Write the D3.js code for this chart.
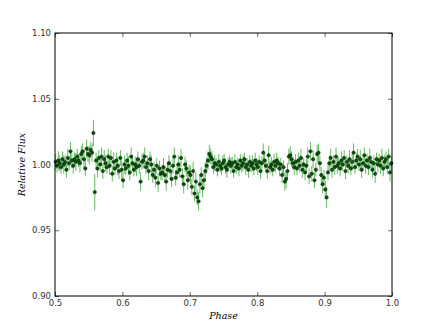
<!DOCTYPE html>
<html><head><meta charset="utf-8">
<script src="https://cdn.jsdelivr.net/npm/d3@7"></script>
<style>body{margin:0;background:#fff}svg{display:block}</style>
</head><body>
<script>
const phase = [
0.501,0.503,0.505,0.507,0.509, 0.511,0.513,0.515,0.517,0.519,
0.521,0.523,0.525,0.527,0.529, 0.531,0.533,0.535,0.537,0.539,
0.541,0.543,0.545,0.547,0.549, 0.551,0.553,0.555,0.557,0.559,
0.561,0.563,0.565,0.567,0.569, 0.571,0.573,0.575,0.577,0.579,
0.581,0.583,0.585,0.587,0.589, 0.591,0.593,0.595,0.597,0.599,
0.601,0.603,0.605,0.607,0.609, 0.611,0.613,0.615,0.617,0.619,
0.621,0.623,0.625,0.627,0.629, 0.631,0.633,0.635,0.637,0.639,
0.641,0.643,0.645,0.647,0.649, 0.651,0.653,0.655,0.657,0.659,
0.661,0.663,0.665,0.667,0.669, 0.671,0.673,0.675,0.677,0.679,
0.681,0.683,0.685,0.687,0.689, 0.691,0.693,0.695,0.697,0.699,
0.701,0.703,0.705,0.707,0.709, 0.711,0.713,0.715,0.717,0.719,
0.721,0.723,0.725,0.727,0.729, 0.731,0.733,0.735,0.737,0.739,
0.741,0.743,0.745,0.747,0.749, 0.751,0.753,0.755,0.757,0.759,
0.761,0.763,0.765,0.767,0.769, 0.771,0.773,0.775,0.777,0.779,
0.781,0.783,0.785,0.787,0.789, 0.791,0.793,0.795,0.797,0.799,
0.801,0.803,0.805,0.807,0.809, 0.811,0.813,0.815,0.817,0.819,
0.821,0.823,0.825,0.827,0.829, 0.831,0.833,0.835,0.837,0.839,
0.841,0.843,0.845,0.847,0.849, 0.851,0.853,0.855,0.857,0.859,
0.861,0.863,0.865,0.867,0.869, 0.871,0.873,0.875,0.877,0.879,
0.881,0.883,0.885,0.887,0.889, 0.891,0.893,0.895,0.897,0.899,
0.901,0.903,0.905,0.907,0.909, 0.911,0.913,0.915,0.917,0.919,
0.921,0.923,0.925,0.927,0.929, 0.931,0.933,0.935,0.937,0.939,
0.941,0.943,0.945,0.947,0.949, 0.951,0.953,0.955,0.957,0.959,
0.961,0.963,0.965,0.967,0.969, 0.971,0.973,0.975,0.977,0.979,
0.981,0.983,0.985,0.987,0.989, 0.991,0.993,0.995,0.997,0.999
];
const flux = [
1.002,0.999,1.003,1.001,0.998, 1.004,1.000,1.002,0.996,1.005,
1.001,1.010,1.003,0.999,1.004, 1.002,1.006,1.003,1.001,1.008,
1.010,1.004,0.997,1.012,1.008, 1.007,1.011,1.009,1.024,0.979,
1.003,0.997,1.005,1.000,1.006, 0.995,1.004,1.001,0.998,1.006,
0.999,1.005,0.993,1.002,0.997, 1.003,0.999,0.995,1.005,0.996,
0.988,1.000,0.997,1.003,0.999, 0.994,1.006,1.001,0.996,1.000,
0.998,1.004,0.999,0.987,1.002, 1.003,1.006,0.998,1.001,0.995,
1.004,1.000,0.992,0.996,0.990, 0.999,0.986,0.997,0.993,0.994,
0.998,0.992,0.987,0.996,1.001, 0.995,0.989,0.999,1.006,0.990,
0.994,1.000,0.996,1.005,0.991, 0.985,1.000,0.997,0.988,0.994,
0.992,0.983,0.995,0.978,0.987, 0.975,0.972,0.985,0.992,0.982,
0.988,0.995,0.999,1.003,1.008, 1.006,1.004,0.998,1.001,1.000,
0.996,1.002,0.999,0.997,1.001, 1.003,0.998,0.996,1.000,1.002,
0.999,1.001,0.995,1.002,0.998, 1.000,0.997,1.003,0.999,1.001,
1.004,0.998,1.000,0.996,1.002, 0.999,1.001,0.997,1.003,1.000,
0.998,1.002,0.995,1.001,1.009, 1.003,0.999,0.995,1.007,0.998,
1.000,0.996,1.002,0.999,1.003, 1.001,0.997,1.000,0.992,0.998,
0.987,0.989,0.995,1.006,1.007, 1.004,1.001,0.998,1.002,0.997,
1.003,0.999,1.005,0.996,1.000, 0.994,0.999,1.006,0.991,1.010,
0.993,1.004,0.988,0.996,1.008, 1.009,1.001,0.992,0.985,0.990,
0.981,0.975,0.994,1.001,1.005, 0.996,1.002,0.998,1.006,0.999,
1.001,0.997,1.003,1.000,1.005, 0.995,1.002,0.999,1.004,0.997,
1.002,1.009,0.998,1.003,1.006, 1.000,1.004,0.996,1.001,1.007,
0.999,1.003,0.998,1.005,1.002, 0.996,1.001,0.993,1.004,1.000,
1.003,0.999,1.005,0.997,1.002, 1.004,0.998,1.006,0.994,1.001
];
const err = [
0.006,0.005,0.007,0.006,0.005, 0.006,0.007,0.005,0.006,0.007,
0.005,0.007,0.006,0.006,0.005, 0.007,0.006,0.005,0.007,0.006,
0.006,0.007,0.006,0.007,0.006, 0.007,0.006,0.007,0.010,0.014,
0.006,0.007,0.006,0.005,0.007, 0.006,0.007,0.006,0.005,0.006,
0.007,0.006,0.006,0.007,0.005, 0.006,0.007,0.006,0.006,0.007,
0.006,0.007,0.005,0.006,0.007, 0.006,0.007,0.006,0.005,0.006,
0.007,0.006,0.006,0.007,0.006, 0.006,0.007,0.005,0.006,0.007,
0.006,0.007,0.006,0.006,0.007, 0.006,0.007,0.006,0.005,0.006,
0.007,0.006,0.007,0.006,0.006, 0.007,0.006,0.006,0.007,0.006,
0.006,0.007,0.006,0.007,0.006, 0.007,0.006,0.006,0.007,0.006,
0.007,0.006,0.007,0.006,0.007, 0.006,0.007,0.007,0.006,0.007,
0.006,0.007,0.006,0.007,0.007, 0.006,0.006,0.005,0.006,0.005,
0.005,0.006,0.005,0.005,0.006, 0.005,0.005,0.006,0.005,0.005,
0.006,0.005,0.005,0.006,0.005, 0.005,0.006,0.005,0.005,0.006,
0.005,0.006,0.005,0.006,0.005, 0.005,0.006,0.005,0.006,0.005,
0.006,0.005,0.006,0.005,0.007, 0.006,0.005,0.006,0.007,0.005,
0.006,0.005,0.006,0.005,0.006, 0.005,0.006,0.005,0.006,0.005,
0.007,0.007,0.006,0.006,0.007, 0.006,0.005,0.006,0.006,0.005,
0.006,0.005,0.007,0.006,0.005, 0.006,0.005,0.007,0.006,0.007,
0.006,0.007,0.006,0.005,0.007, 0.007,0.006,0.006,0.007,0.006,
0.007,0.008,0.006,0.006,0.007, 0.006,0.005,0.006,0.007,0.006,
0.005,0.006,0.007,0.005,0.006, 0.006,0.005,0.006,0.007,0.005,
0.006,0.007,0.005,0.006,0.006, 0.005,0.007,0.006,0.005,0.006,
0.006,0.005,0.006,0.007,0.005, 0.006,0.006,0.007,0.005,0.006,
0.005,0.006,0.007,0.006,0.005, 0.006,0.005,0.006,0.007,0.006
];
const xTicks = [0.5,0.6,0.7,0.8,0.9,1.0];
const yTicks = [0.90,0.95,1.00,1.05,1.10];
const xLabel = "Phase";
const yLabel = "Relative Flux";

const W = 436, H = 329;
const m = {left:55, right:44, top:33, bottom:33};
const svg = d3.select("body").append("svg").attr("width",W).attr("height",H);
const x = d3.scaleLinear().domain([0.5,1.0]).range([m.left, W-m.right]);
const y = d3.scaleLinear().domain([0.90,1.10]).range([H-m.bottom, m.top]);

const data = phase.map((p,i)=>({p, f:flux[i], e:err[i]}));

const plot = svg.append("g");
plot.selectAll("line.eb").data(data).enter().append("line")
  .attr("class","eb")
  .attr("x1",d=>x(d.p)).attr("x2",d=>x(d.p))
  .attr("y1",d=>y(d.f-d.e)).attr("y2",d=>y(d.f+d.e))
  .attr("stroke","#3fa83f").attr("stroke-opacity",0.8).attr("stroke-width",1);
plot.selectAll("circle").data(data).enter().append("circle")
  .attr("cx",d=>x(d.p)).attr("cy",d=>y(d.f)).attr("r",1.7)
  .attr("fill","#0a4f0a").attr("stroke","#002200").attr("stroke-width",0.5);

const fontAx = "DejaVu Sans";
const axB = d3.axisBottom(x).tickValues(xTicks).tickFormat(d3.format(".1f")).tickSizeInner(-4).tickSizeOuter(0).tickPadding(4);
const axL = d3.axisLeft(y).tickValues(yTicks).tickFormat(d3.format(".2f")).tickSizeInner(-4).tickSizeOuter(0).tickPadding(4);
const axT = d3.axisTop(x).tickValues(xTicks).tickFormat("").tickSizeInner(-4).tickSizeOuter(0);
const axR = d3.axisRight(y).tickValues(yTicks).tickFormat("").tickSizeInner(-4).tickSizeOuter(0);

function style(g){
  g.select(".domain").remove();
  g.selectAll(".tick line").attr("stroke","#000").attr("stroke-width",0.6);
  g.selectAll("text").attr("font-family",fontAx).attr("font-size","8.5px").attr("fill","#333");
}
svg.append("g").attr("transform",`translate(0,${H-m.bottom})`).call(axB).call(style);
svg.append("g").attr("transform",`translate(${m.left},0)`).call(axL).call(style);
svg.append("g").attr("transform",`translate(0,${m.top})`).call(axT).call(style);
svg.append("g").attr("transform",`translate(${W-m.right},0)`).call(axR).call(style);

svg.append("rect").attr("x",m.left).attr("y",m.top)
  .attr("width",W-m.left-m.right).attr("height",H-m.top-m.bottom)
  .attr("fill","none").attr("stroke","#000").attr("stroke-width",1);

svg.append("text").attr("x",(m.left+W-m.right)/2).attr("y",319)
  .attr("text-anchor","middle").attr("font-family","DejaVu Serif").attr("font-style","italic")
  .attr("font-size","9.5px").attr("fill","#000").text(xLabel);
svg.append("text").attr("transform",`translate(25,${(m.top+H-m.bottom)/2}) rotate(-90)`)
  .attr("text-anchor","middle").attr("font-family","DejaVu Serif").attr("font-style","italic")
  .attr("font-size","9.5px").attr("fill","#000").text(yLabel);
</script>
</body></html>
